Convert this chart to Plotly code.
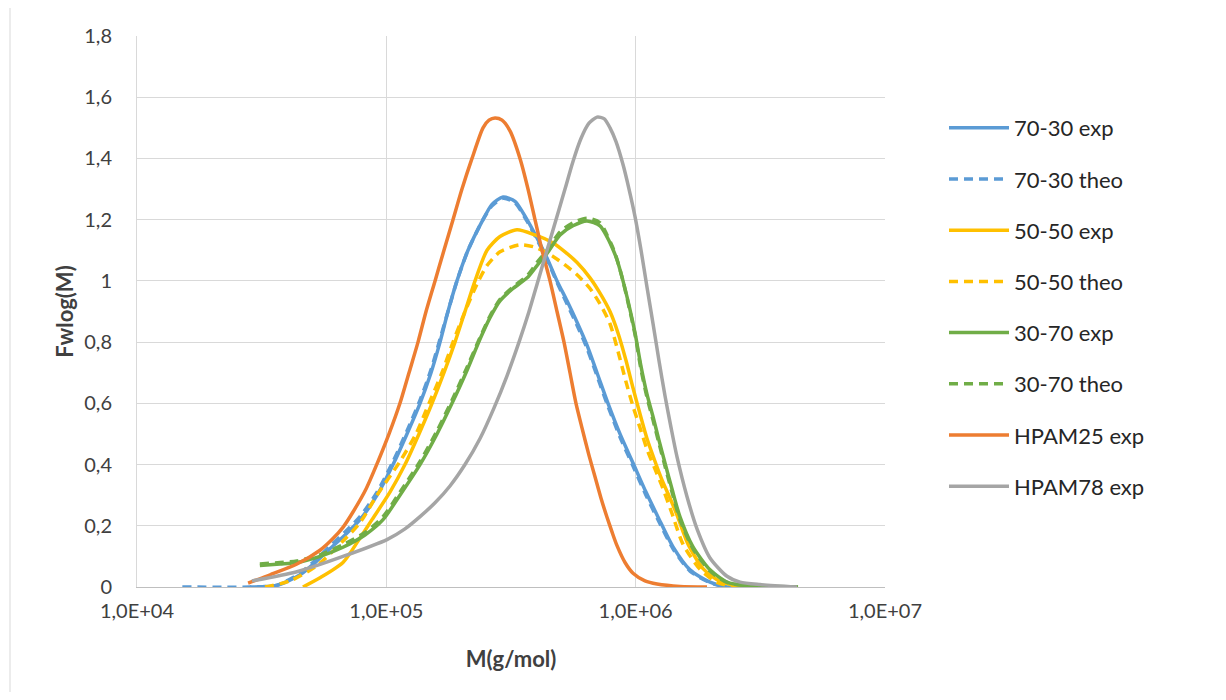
import plotly.graph_objects as go

# ---- data (M in g/mol, Fwlog(M)) ----
m_7030_exp = [2.84e4, 3.64e4, 4.51e4, 5.27e4, 5.94e4, 6.83e4, 7.84e4, 9.18e4, 1.064e5, 1.210e5, 1.365e5, 1.511e5,
              1.642e5, 1.767e5, 1.920e5, 2.126e5, 2.442e5, 2.653e5, 2.938e5, 3.281e5, 3.667e5, 4.021e5, 4.410e5,
              4.837e5, 5.304e5, 5.820e5, 6.380e5, 6.998e5, 7.746e5, 8.653e5, 9.759e5, 1.100e6, 1.229e6, 1.412e6,
              1.652e6, 1.987e6, 2.325e6, 2.622e6]
y_7030_exp = [0, 0.005, 0.04, 0.085, 0.125, 0.17, 0.22, 0.3, 0.4, 0.5, 0.6, 0.7,
              0.8, 0.9, 1.0, 1.1, 1.2, 1.25, 1.274, 1.26, 1.2, 1.14, 1.075,
              1.0, 0.935, 0.865, 0.79, 0.7, 0.6, 0.5, 0.405, 0.31, 0.229, 0.131,
              0.056, 0.016, 0.0, 0]

m_7030_theo = [1.52e4] + m_7030_exp
y_7030_theo = [0, 0, 0.006, 0.045, 0.092, 0.133, 0.18, 0.23, 0.31, 0.41, 0.51, 0.61, 0.71,
               0.81, 0.9, 1.0, 1.1, 1.2, 1.245, 1.27, 1.255, 1.195, 1.135, 1.07,
               0.995, 0.925, 0.855, 0.78, 0.69, 0.59, 0.49, 0.395, 0.3, 0.22, 0.125,
               0.052, 0.014, 0.0, 0]

m_5050_exp = [4.63e4, 5.42e4, 6.70e4, 7.70e4, 8.76e4, 1.034e5, 1.188e5, 1.352e5, 1.525e5, 1.703e5, 1.885e5, 2.068e5,
              2.268e5, 2.534e5, 2.857e5, 3.342e5, 3.947e5, 4.662e5, 5.207e5, 5.820e5, 6.559e5, 7.194e5, 7.890e5,
              8.495e5, 9.148e5, 9.759e5, 1.041e6, 1.110e6, 1.196e6, 1.275e6, 1.374e6, 1.465e6, 1.622e6, 1.863e6,
              2.179e6, 2.695e6]
y_5050_exp = [0, 0.03, 0.08, 0.15, 0.22, 0.31, 0.4, 0.5, 0.6, 0.7, 0.8, 0.9,
              1.0, 1.1, 1.145, 1.167, 1.15, 1.124, 1.095, 1.06, 1.01, 0.96, 0.9,
              0.83, 0.74, 0.65, 0.565, 0.485, 0.41, 0.35, 0.29, 0.235, 0.14, 0.06,
              0.018, 0]

m_5050_theo = [3.26e4, 4.11e4, 5.27e4, 6.70e4, 7.84e4, 9.18e4, 1.134e5, 1.315e5, 1.483e5, 1.672e5, 1.851e5, 2.068e5,
               2.311e5, 2.534e5, 2.857e5, 3.436e5, 3.947e5, 4.662e5, 5.207e5, 5.820e5, 6.559e5, 7.194e5, 7.890e5,
               8.495e5, 9.148e5, 9.759e5, 1.041e6, 1.110e6, 1.196e6, 1.275e6, 1.399e6, 1.548e6, 1.812e6, 2.120e6,
               2.503e6]
y_5050_theo = [0, 0.02, 0.07, 0.15, 0.21, 0.3, 0.41, 0.5, 0.6, 0.7, 0.8, 0.9,
               0.99, 1.05, 1.095, 1.118, 1.11, 1.08, 1.052, 1.02, 0.975, 0.925, 0.86,
               0.77, 0.67, 0.59, 0.52, 0.45, 0.385, 0.33, 0.24, 0.14, 0.058, 0.015,
               0]

m_3070 = [3.11e4, 3.75e4, 4.38e4, 5.42e4, 6.70e4, 8.21e4, 9.70e4, 1.134e5, 1.365e5, 1.597e5, 1.834e5, 2.087e5,
          2.376e5, 2.605e5, 2.857e5, 3.221e5, 3.701e5, 4.021e5, 4.410e5, 4.973e5, 5.606e5, 6.380e5, 7.194e5,
          7.675e5, 8.037e5, 8.417e5, 8.897e5, 9.404e5, 9.940e5, 1.051e6, 1.110e6, 1.174e6, 1.240e6, 1.311e6,
          1.399e6, 1.506e6, 1.698e6, 1.987e6, 2.325e6, 2.746e6, 4.479e6]
y_3070_exp = [0.07, 0.075, 0.08, 0.1, 0.13, 0.17, 0.22, 0.3, 0.4, 0.5, 0.6, 0.7,
              0.81, 0.88, 0.935, 0.975, 1.013, 1.05, 1.09, 1.15, 1.18, 1.196, 1.18,
              1.144, 1.11, 1.069, 1.0, 0.92, 0.83, 0.72, 0.63, 0.556, 0.48, 0.405,
              0.32, 0.229, 0.131, 0.056, 0.016, 0.005, 0]
y_3070_theo = [0.075, 0.08, 0.085, 0.105, 0.138, 0.178, 0.23, 0.31, 0.41, 0.51, 0.61, 0.71,
               0.815, 0.885, 0.94, 0.98, 1.02, 1.06, 1.1, 1.16, 1.19, 1.205, 1.19,
               1.15, 1.115, 1.07, 1.0, 0.915, 0.825, 0.71, 0.62, 0.545, 0.47, 0.395,
               0.31, 0.22, 0.125, 0.052, 0.015, 0.005, 0]

m_hpam25 = [2.79e4, 3.42e4, 4.38e4, 5.42e4, 6.054e4, 6.70e4, 7.35e4, 8.29e4, 9.26e4, 1.025e5, 1.134e5, 1.233e5,
            1.340e5, 1.443e5, 1.568e5, 1.703e5, 1.851e5, 2.011e5, 2.206e5, 2.442e5, 2.581e5, 2.729e5, 2.911e5,
            3.133e5, 3.436e5, 3.701e5, 3.947e5, 4.211e5, 4.534e5, 4.837e5, 5.159e5, 5.453e5, 5.763e5, 6.091e5,
            6.499e5, 6.869e5, 7.261e5, 7.675e5, 8.037e5, 8.417e5, 9.064e5, 9.759e5, 1.090e6, 1.218e6, 1.506e6,
            1.933e6]
y_hpam25 = [0.013, 0.04, 0.075, 0.12, 0.155, 0.195, 0.245, 0.32, 0.41, 0.5, 0.6, 0.7,
            0.8, 0.9, 1.0, 1.1, 1.2, 1.3, 1.4, 1.5, 1.525, 1.532, 1.525,
            1.49, 1.4, 1.3, 1.2, 1.1, 1.0, 0.9, 0.8, 0.7, 0.6, 0.52,
            0.43, 0.36, 0.29, 0.228, 0.18, 0.135, 0.08, 0.045, 0.02, 0.01, 0.002,
            0]

m_hpam78 = [2.89e4, 4.38e4, 6.70e4, 1.006e5, 1.188e5, 1.365e5, 1.568e5, 1.800e5, 2.068e5, 2.376e5, 2.704e5, 3.048e5,
            3.405e5, 3.735e5, 4.058e5, 4.410e5, 4.792e5, 5.207e5, 5.606e5, 6.035e5, 6.499e5, 6.998e5, 7.464e5,
            7.890e5, 8.340e5, 8.897e5, 9.404e5, 9.940e5, 1.051e6, 1.110e6, 1.174e6, 1.240e6, 1.311e6, 1.387e6,
            1.465e6, 1.607e6, 1.762e6, 1.987e6, 2.325e6, 2.622e6, 3.153e6, 4.438e6]
y_hpam78 = [0.02, 0.05, 0.1, 0.155, 0.19, 0.23, 0.275, 0.33, 0.4, 0.485, 0.585, 0.69,
            0.8, 0.9, 1.0, 1.1, 1.2, 1.3, 1.39, 1.465, 1.515, 1.535, 1.53,
            1.5, 1.455, 1.38, 1.3, 1.21, 1.1, 0.98, 0.86, 0.74, 0.625, 0.52,
            0.425, 0.295, 0.19, 0.095, 0.035, 0.016, 0.008, 0]

x_tickvals = [1e4, 1e5, 1e6, 1e7]
x_ticktext = ["1,0E+04", "1,0E+05", "1,0E+06", "1,0E+07"]
y_tickvals = [0, 0.2, 0.4, 0.6, 0.8, 1.0, 1.2, 1.4, 1.6, 1.8]
y_ticktext = ["0", "0,2", "0,4", "0,6", "0,8", "1", "1,2", "1,4", "1,6", "1,8"]

BLUE, YELLOW, GREEN, ORANGE, GRAY = "#5B9BD5", "#FFC000", "#70AD47", "#ED7D31", "#A5A5A5"
DASH = "9px,6px"

series = [
    ("70-30 exp", m_7030_exp, y_7030_exp, BLUE, "solid"),
    ("70-30 theo", m_7030_theo, y_7030_theo, BLUE, DASH),
    ("50-50 exp", m_5050_exp, y_5050_exp, YELLOW, "solid"),
    ("50-50 theo", m_5050_theo, y_5050_theo, YELLOW, DASH),
    ("30-70 exp", m_3070, y_3070_exp, GREEN, "solid"),
    ("30-70 theo", m_3070, y_3070_theo, GREEN, DASH),
    ("HPAM25 exp", m_hpam25, y_hpam25, ORANGE, "solid"),
    ("HPAM78 exp", m_hpam78, y_hpam78, GRAY, "solid"),
]

FONT = "Lato"
fig = go.Figure()
for name, xs, ys, col, dash in series:
    fig.add_trace(go.Scatter(
        x=xs, y=ys, name=name, mode="lines", legendgroup=name,
        line=dict(color=col, width=3.5, dash=dash, shape="spline", smoothing=0.7),
    ))

# page has an 8px body margin; figure coordinates are page coordinates minus 8
OFF = 8
W, H = 1210, 684
L, T, R, B = 137 - OFF, 36 - OFF, 885 - OFF, 587 - OFF
pw, ph = R - L, B - T

fig.update_layout(
    width=W, height=H,
    margin=dict(l=L, r=W - R, t=T, b=H - B),
    paper_bgcolor="white", plot_bgcolor="white",
    font=dict(family=FONT, size=20, color="#404040"),
    showlegend=True,
    legend=dict(
        x=(944 - OFF - L) / pw, y=(B - (107 - OFF)) / ph, xanchor="left", yanchor="top",
        font=dict(family=FONT, size=22, color="#262626"),
        tracegroupgap=19.6, itemwidth=60, bgcolor="rgba(0,0,0,0)",
    ),
    xaxis=dict(
        type="log", range=[4, 7], tickvals=x_tickvals, ticktext=x_ticktext,
        showgrid=True, gridcolor="#D9D9D9", gridwidth=1,
        showline=True, linecolor="#BFBFBF", linewidth=1,
        zeroline=False, ticks="", ticklabelstandoff=6,
        title=dict(text="<b>M(g/mol)</b>", font=dict(family=FONT, size=22, color="#404040"), standoff=30),
    ),
    yaxis=dict(
        range=[0, 1.8], tickvals=y_tickvals, ticktext=y_ticktext,
        showgrid=True, gridcolor="#D9D9D9", gridwidth=1,
        showline=True, linecolor="#D9D9D9", linewidth=1,
        zeroline=False, ticks="", ticklabelstandoff=20,
        title=dict(text="<b>Fwlog(M)</b>", font=dict(family=FONT, size=22, color="#404040"), standoff=4),
    ),
    shapes=[dict(
        type="rect", xref="paper", yref="paper", layer="below",
        x0=(10 - OFF - L) / pw, x1=(W + 20 - L) / pw, y0=(B - (H + 20)) / ph, y1=(B - (6 - OFF)) / ph,
        line=dict(color="#D9D9D9", width=1), fillcolor="rgba(0,0,0,0)",
    )],
)

fig.write_html("out.html")
